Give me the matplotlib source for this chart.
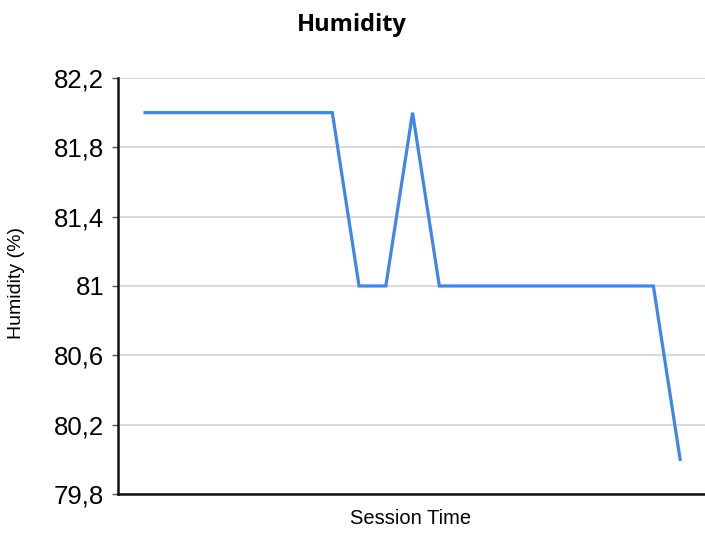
import numpy as np
import matplotlib.pyplot as plt
from matplotlib.ticker import FuncFormatter

# humidity readings per session sample
humidity = [82, 82, 82, 82, 82, 82, 82, 82, 81, 81, 82,
            81, 81, 81, 81, 81, 81, 81, 81, 81, 80]
samples = np.arange(len(humidity))
yticks = [79.8, 80.2, 80.6, 81.0, 81.4, 81.8, 82.2]

plt.rcParams['font.family'] = ['Liberation Sans', 'DejaVu Sans']

fig = plt.figure(figsize=(7.05, 5.33), dpi=100)
ax = fig.add_axes([0.1674, 0.0732, 0.8326, 0.7805])

ax.plot(samples, humidity, color='#3d87ec', linewidth=2.3, solid_joinstyle='miter')

ax.set_xlim(-1.01, 20.93)
ax.set_ylim(79.8, 82.2)
ax.set_yticks(yticks)
ax.yaxis.set_major_formatter(FuncFormatter(lambda v, p: f'{v:g}'.replace('.', ',')))
ax.set_xticks([])
ax.tick_params(axis='y', labelsize=18.5, length=4, width=1, color='#555555', pad=6)

ax.grid(axis='y', color='#d4d4d4', linewidth=1.2)
ax.set_axisbelow(True)
for s in ['top', 'right']:
    ax.spines[s].set_visible(False)
for s in ['left', 'bottom']:
    ax.spines[s].set_linewidth(1.8)
    ax.spines[s].set_color('#111111')

fig.text(0.583, 1 - 518 / 533, 'Session Time', fontsize=14.5, ha='center', va='center')
fig.text(0.023, 1 - 283 / 533, 'Humidity (%)', rotation=90, fontsize=14, ha='center', va='center')
fig.text(0.499, 1 - 25 / 533, 'Humidity', fontsize=17, fontweight='bold',
         family=['Open Sans', 'DejaVu Sans'], ha='center', va='center')

plt.savefig('out.png', dpi=100)
